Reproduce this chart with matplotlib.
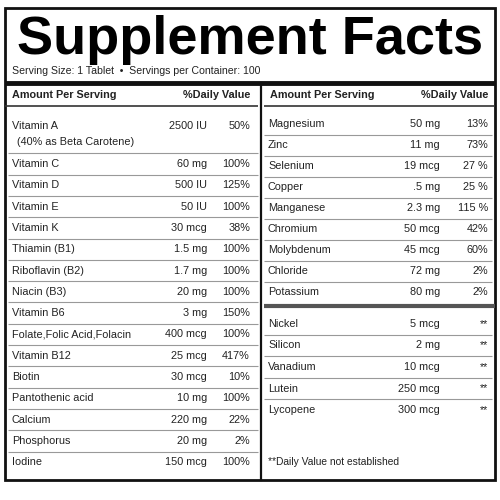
import matplotlib
matplotlib.use("Agg")
import matplotlib.pyplot as plt

title = "Supplement Facts"
serving = "Serving Size: 1 Tablet  •  Servings per Container: 100"
left_names = ["Vitamin C", "Vitamin D", "Vitamin E", "Vitamin K", "Thiamin (B1)", "Riboflavin (B2)",
              "Niacin (B3)", "Vitamin B6", "Folate,Folic Acid,Folacin", "Vitamin B12", "Biotin",
              "Pantothenic acid", "Calcium", "Phosphorus", "Iodine"]
left_amounts = ["60 mg", "500 IU", "50 IU", "30 mcg", "1.5 mg", "1.7 mg", "20 mg", "3 mg", "400 mcg",
                "25 mcg", "30 mcg", "10 mg", "220 mg", "20 mg", "150 mcg"]
left_pcts = ["100%", "125%", "100%", "38%", "100%", "100%", "100%", "150%", "100%", "417%", "10%",
             "100%", "22%", "2%", "100%"]
right_names1 = ["Magnesium", "Zinc", "Selenium", "Copper", "Manganese", "Chromium", "Molybdenum", "Chloride", "Potassium"]
right_amounts1 = ["50 mg", "11 mg", "19 mcg", ".5 mg", "2.3 mg", "50 mcg", "45 mcg", "72 mg", "80 mg"]
right_pcts1 = ["13%", "73%", "27 %", "25 %", "115 %", "42%", "60%", "2%", "2%"]
right_names2 = ["Nickel", "Silicon", "Vanadium", "Lutein", "Lycopene"]
right_amounts2 = ["5 mcg", "2 mg", "10 mcg", "250 mcg", "300 mcg"]
right_pcts2 = ["**", "**", "**", "**", "**"]

fig = plt.figure(figsize=(5, 5), dpi=100)
ax = fig.add_axes([0, 0, 1, 1])
ax.set_xlim(0, 500); ax.set_ylim(500, 0); ax.axis("off")
F = "Liberation Sans"
fs = 7.8
def t(x, y, s, ha="left", **kw):
    kw.setdefault("fontsize", fs)
    kw.setdefault("color", "#222222")
    ax.text(x, y, s, ha=ha, va="center", family=F, **kw)
def hl(y, x0, x1, lw=0.8, c="#999999"):
    ax.plot([x0, x1], [y, y], color=c, lw=lw, solid_capstyle="butt")

ax.add_patch(plt.Rectangle((5, 8), 490, 472, fill=False, ec="#111111", lw=2))
t(250, 40, title, ha="center", fontsize=39, fontweight="heavy", color="#000000")
t(12, 71, serving, fontsize=7.6)
hl(83, 5, 495, lw=3.5, c="#111111")
ax.plot([261, 261], [83, 480], color="#111111", lw=1.6)
t(12, 95, "Amount Per Serving", fontweight="bold")
t(250, 95, "%Daily Value", ha="right", fontweight="bold")
t(270, 95, "Amount Per Serving", fontweight="bold")
t(488, 95, "%Daily Value", ha="right", fontweight="bold")
hl(106, 5, 258, lw=1.2, c="#333333"); hl(106, 264, 495, lw=1.2, c="#333333")

t(12, 126, "Vitamin A"); t(207, 126, "2500 IU", ha="right"); t(250, 126, "50%", ha="right")
t(17, 142, "(40% as Beta Carotene)")
hl(153, 8, 258)
y0, dy = 164, 21.3
for i, (n, a, p) in enumerate(zip(left_names, left_amounts, left_pcts)):
    y = y0 + i * dy
    t(12, y, n); t(207, y, a, ha="right"); t(250, y, p, ha="right")
    if i < len(left_names) - 1:
        hl(y + dy / 2, 8, 258)

y0r = 124
for i, (n, a, p) in enumerate(zip(right_names1, right_amounts1, right_pcts1)):
    y = y0r + i * 21
    t(268, y, n); t(440, y, a, ha="right"); t(488, y, p, ha="right")
    if i < len(right_names1) - 1:
        hl(y + 10.5, 264, 492)
hl(306, 264, 495, lw=3, c="#555555")
y0r2 = 324
for i, (n, a, p) in enumerate(zip(right_names2, right_amounts2, right_pcts2)):
    y = y0r2 + i * 21.5
    t(268, y, n); t(440, y, a, ha="right"); t(488, y, p, ha="right")
    if i < len(right_names2) - 1:
        hl(y + 10.75, 264, 492)
t(268, 462, "**Daily Value not established", fontsize=7.4)
fig.savefig("out.png", dpi=100)
